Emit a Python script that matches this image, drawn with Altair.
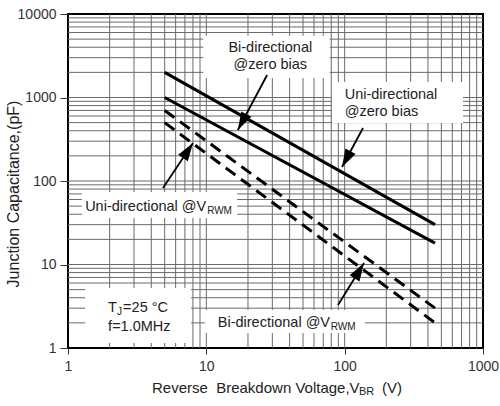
import math
import altair as alt
import pandas as pd

# ---------------- data ----------------
voltage = [5, 450]                 # V_BR (V)
bi_zero_bias = [2000, 30]          # pF
uni_zero_bias = [1000, 18]
bi_at_vrwm = [700, 3]
uni_at_vrwm = [500, 2]

x_tick_values = [1, 10, 100, 1000]
y_tick_values = [1, 10, 100, 1000, 10000]
x_grid_values = [2, 3, 4, 5, 6, 7, 8, 9, 10, 20, 30, 40, 50, 60, 70, 80, 90,
                 100, 200, 300, 400, 500, 600, 700, 800, 900]
y_grid_values = [2, 3, 4, 5, 6, 7, 8, 9, 10, 20, 30, 40, 50, 60, 70, 80, 90,
                 100, 200, 300, 400, 500, 600, 700, 800, 900,
                 1000, 2000, 3000, 4000, 5000, 6000, 7000, 8000, 9000]

# white label boxes (data units)
box_x1 = [9.5, 81, 1.26, 9.8, 1.33]
box_x2 = [78, 717, 16.7, 140, 7.75]
box_y1 = [1714, 495, 36.1, 1.51, 1.15]
box_y2 = [5500, 1535, 73.8, 2.85, 5.24]

# arrows: tail -> head (data units)
arrow_tail_x = [27.5, 135.7, 4.86, 89.5]
arrow_tail_y = [1860, 431, 82.5, 3.27]
arrow_head_x = [16.9, 95.7, 8.01, 138]
arrow_head_y = [408, 147, 285, 10.4]

# annotation texts
ann_text = ["Bi-directional", "@zero bias", "Uni-directional", "@zero bias",
            "Uni-directional @V", "RWM", "Bi-directional @V", "RWM",
            "T", "J", "=25 °C", "f=1.0MHz"]
ann_x = [29, 29, 100, 100, 1.33, 1.33, 12.1, 12.1, 1.95, 1.95, 1.95, 1.95]
ann_y = [3900, 2450, 1070, 670, 48.9, 48.9, 1.99, 1.99, 3.01, 3.01, 3.01, 1.78]
ann_dx = [0, 0, 0, 0, 0, 122, 0, 113, 0, 9, 15, 0]
ann_dy = [0, 0, 0, 0, 0, 4, 0, 4, 0, 4, 0, 0]
ann_size = [14.5, 14.5, 14.5, 14.5, 14.5, 10, 14.5, 10, 14.5, 10, 14.5, 14.5]
ann_align = ["center", "center", "left", "left", "left", "left", "left", "left",
             "left", "left", "left", "left"]

# ---------------- layout ----------------
W, H = 415, 334
FONT = "Liberation Sans"
TXT = "#222222"

xs = alt.Scale(type="log", domain=[1, 1000], nice=False)
ys = alt.Scale(type="log", domain=[1, 10000], nice=False)
xaxis = alt.Axis(values=x_tick_values, format="d", grid=False, domain=False,
                 tickSize=6, tickColor="#333333", labelFontSize=14,
                 labelColor="#333333", labelFont=FONT, labelPadding=5,
                 labelFlush=False, title=None)
yaxis = alt.Axis(values=y_tick_values, format="d", grid=False, domain=False,
                 tickSize=8, tickColor="#333333", labelFontSize=14,
                 labelColor="#333333", labelFont=FONT, labelPadding=4,
                 title=None)


def X(f):
    return alt.X(f, type="quantitative", scale=xs, axis=xaxis)


def Y(f):
    return alt.Y(f, type="quantitative", scale=ys, axis=yaxis)


grid_color = "#6a6a6a"
xgrid = alt.Chart(pd.DataFrame({"v": x_grid_values})).mark_rule(
    color=grid_color, strokeWidth=1).encode(x=X("v"))
ygrid = alt.Chart(pd.DataFrame({"v": y_grid_values})).mark_rule(
    color=grid_color, strokeWidth=1).encode(y=Y("v"))

boxes = alt.Chart(pd.DataFrame({"x1": box_x1, "x2": box_x2,
                                "y1": box_y1, "y2": box_y2})).mark_rect(
    fill="white", strokeWidth=0).encode(
    x=X("x1"), x2="x2", y=Y("y1"), y2="y2")

solid_df = pd.DataFrame({
    "v": voltage + voltage,
    "c": bi_zero_bias + uni_zero_bias,
    "s": ["Bi-directional @zero bias"] * 2 + ["Uni-directional @zero bias"] * 2,
})
dash_df = pd.DataFrame({
    "v": voltage + voltage,
    "c": bi_at_vrwm + uni_at_vrwm,
    "s": ["Bi-directional @VRWM"] * 2 + ["Uni-directional @VRWM"] * 2,
})
solid = alt.Chart(solid_df).mark_line(color="black", strokeWidth=3).encode(
    x=X("v"), y=Y("c"), detail="s:N")
dashed = alt.Chart(dash_df).mark_line(
    color="black", strokeWidth=3, strokeDash=[12, 7], strokeCap="butt").encode(
    x=X("v"), y=Y("c"), detail="s:N")

kx, ky = W / 3.0, H / 4.0
angles = []
for tx, ty, hx, hy in zip(arrow_tail_x, arrow_tail_y, arrow_head_x, arrow_head_y):
    dx = math.log10(hx / tx) * kx
    dy = math.log10(hy / ty) * ky
    angles.append(math.degrees(math.atan2(dx, dy)) % 360)

arrow_df = pd.DataFrame({"tx": arrow_tail_x, "ty": arrow_tail_y,
                         "hx": arrow_head_x, "hy": arrow_head_y, "a": angles})
shafts = alt.Chart(arrow_df).mark_rule(color="black", strokeWidth=1.8).encode(
    x=X("tx"), y=Y("ty"), x2="hx", y2="hy")
heads = alt.Chart(arrow_df).mark_point(
    shape="M0,0L-0.32,1L0.32,1Z", filled=True, color="black", opacity=1,
    size=1296, strokeWidth=0).encode(
    x=X("hx"), y=Y("hy"), angle=alt.Angle("a:Q", scale=None))

texts = []
for t, x, y, dx, dy, s, al in zip(ann_text, ann_x, ann_y, ann_dx, ann_dy,
                                  ann_size, ann_align):
    texts.append(alt.Chart(pd.DataFrame({"x": [x], "y": [y], "t": [t]})).mark_text(
        align=al, baseline="middle", dx=dx, dy=dy, fontSize=s, font=FONT,
        color=TXT).encode(x=X("x"), y=Y("y"), text="t:N"))

one = pd.DataFrame({"k": [0]})
ytitle = alt.Chart(one).mark_text(
    angle=270, align="center", baseline="middle", fontSize=16, font=FONT,
    color=TXT).encode(x=alt.value(-54), y=alt.value(180),
                      text=alt.value("Junction Capacitance,(pF)"))
xtitle_main = alt.Chart(one).mark_text(
    align="left", baseline="middle", fontSize=15, font=FONT, color=TXT).encode(
    x=alt.value(84), y=alt.value(374),
    text=alt.value("Reverse\u00a0 Breakdown Voltage,V"))
xtitle_sub = alt.Chart(one).mark_text(
    align="left", baseline="middle", fontSize=11, font=FONT, color=TXT).encode(
    x=alt.value(291), y=alt.value(378), text=alt.value("BR"))
xtitle_unit = alt.Chart(one).mark_text(
    align="left", baseline="middle", fontSize=15, font=FONT, color=TXT).encode(
    x=alt.value(314), y=alt.value(374), text=alt.value("(V)"))

chart = alt.layer(
    ygrid, xgrid, boxes, solid, dashed, shafts, heads, *texts,
    ytitle, xtitle_main, xtitle_sub, xtitle_unit
).properties(
    width=W, height=H,
    autosize=alt.AutoSizeParams(type="none"),
    padding={"left": 68, "top": 14, "right": 17, "bottom": 58},
    background="white",
).configure_view(stroke="black", strokeWidth=2)

chart.save("out.html", embed_options={"renderer": "svg", "actions": False})
